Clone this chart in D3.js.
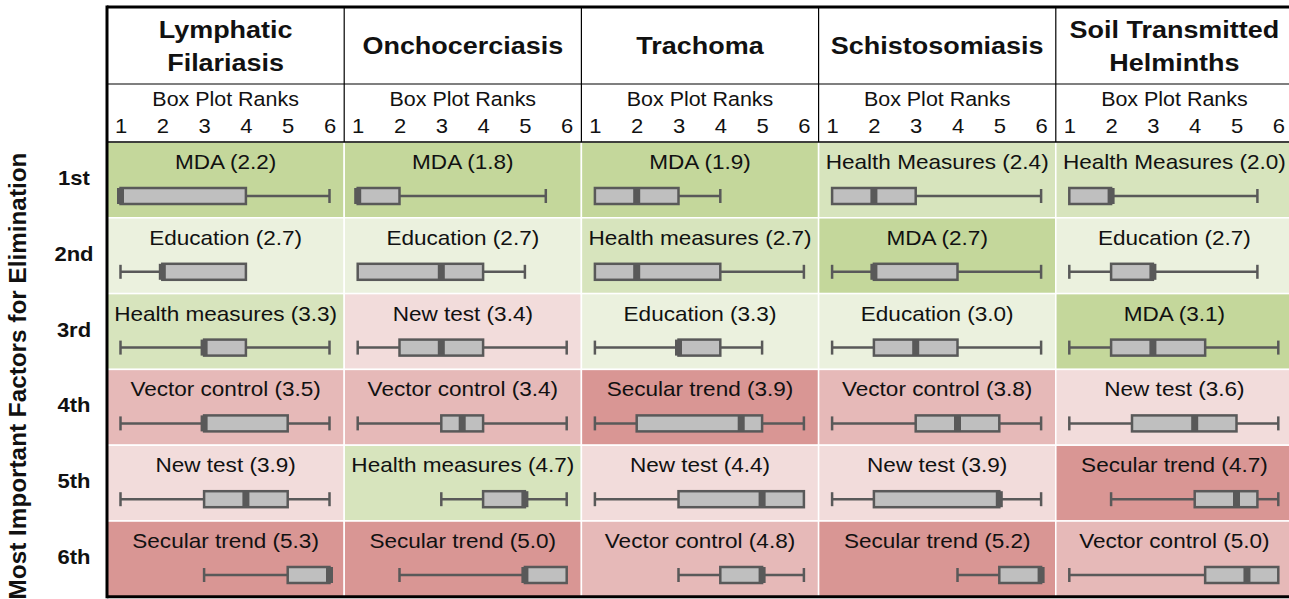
<!DOCTYPE html>
<html>
<head>
<meta charset="utf-8">
<script src="https://cdn.jsdelivr.net/npm/d3@7"></script>
<style>
  body { margin: 0; background: #fff; overflow: hidden; }
  text { font-family: "Liberation Sans", Arial, sans-serif; fill: #111; }
</style>
</head>
<body>
<div id="chart"></div>
<script>
// column titles (one entry per line)
const diseases = [
	["Lymphatic", "Filariasis"],
	["Onchocerciasis"],
	["Trachoma"],
	["Schistosomiasis"],
	["Soil Transmitted", "Helminths"]
]
const rankLabels = ["1st", "2nd", "3rd", "4th", "5th", "6th"]
const rankTicks = [1, 2, 3, 4, 5, 6]

// box stats are [min, q1, median, q3, max]
const lfFactors = ["MDA", "Education", "Health measures", "Vector control", "New test", "Secular trend"]
const lfMeans = [2.2, 2.7, 3.3, 3.5, 3.9, 5.3]
const lfBoxes = [[1, 1, 1, 4, 6], [1, 2, 2, 4, 4], [1, 3, 3, 4, 6], [1, 3, 3, 5, 6], [1, 3, 4, 5, 6], [3, 5, 6, 6, 6]]

const onchoFactors = ["MDA", "Education", "New test", "Vector control", "Health measures", "Secular trend"]
const onchoMeans = [1.8, 2.7, 3.4, 3.4, 4.7, 5.0]
const onchoBoxes = [[1, 1, 1, 2, 5.5], [1, 1, 3, 4, 5], [1, 2, 3, 4, 6], [1, 3, 3.5, 4, 6], [3, 4, 5, 5, 6], [2, 5, 5, 6, 6]]

const trachFactors = ["MDA", "Health measures", "Education", "Secular trend", "New test", "Vector control"]
const trachMeans = [1.9, 2.7, 3.3, 3.9, 4.4, 4.8]
const trachBoxes = [[1, 1, 2, 3, 4], [1, 1, 2, 4, 6], [1, 3, 3, 4, 5], [1, 2, 4.5, 5, 6], [1, 3, 5, 6, 6], [3, 4, 5, 5, 6]]

const schistoFactors = ["Health Measures", "MDA", "Education", "Vector control", "New test", "Secular trend"]
const schistoMeans = [2.4, 2.7, 3.0, 3.8, 3.9, 5.2]
const schistoBoxes = [[1, 1, 2, 3, 6], [1, 2, 2, 4, 6], [1, 2, 3, 4, 6], [1, 3, 4, 5, 6], [1, 2, 5, 5, 6], [4, 5, 6, 6, 6]]

const sthFactors = ["Health Measures", "Education", "MDA", "New test", "Secular trend", "Vector control"]
const sthMeans = [2.0, 2.7, 3.1, 3.6, 4.7, 5.0]
const sthBoxes = [[1, 1, 2, 2, 5.5], [1, 2, 3, 3, 5.5], [1, 2, 3, 4.25, 6], [1, 2.5, 4, 5, 6], [2, 4, 5, 5.5, 6], [1, 4.25, 5.25, 6, 6]]

const factorNames = ["mda", "health measures", "education", "new test", "vector control", "secular trend"]
const factorColors = ["#c4d79b", "#d7e4bd", "#ebf1de", "#f2dcdb", "#e6b9b8", "#d99694"]

const columns = [
	{factors: lfFactors, means: lfMeans, boxes: lfBoxes},
	{factors: onchoFactors, means: onchoMeans, boxes: onchoBoxes},
	{factors: trachFactors, means: trachMeans, boxes: trachBoxes},
	{factors: schistoFactors, means: schistoMeans, boxes: schistoBoxes},
	{factors: sthFactors, means: sthMeans, boxes: sthBoxes}
]

const width = 1289
const height = 599
const gridLeft = 107
const gridTop = 7
const colW = 237.2
const titleBottom = 84
const subBottom = 142
const rowH = 75.8
const SX = 1.1  // the source text is a little wide
const boxGrey = "#bfbfbf"
const dark = "#595959"

const color = d3.scaleOrdinal().domain(factorNames).range(factorColors)

const svg = d3.select("#chart").append("svg")
	.attr("width", width)
	.attr("height", height)

function label(g, x, y, txt, size, bold) {
	return g.append("text")
		.attr("transform", `translate(${x},${y}) scale(${SX},1)`)
		.attr("text-anchor", "middle")
		.style("font-size", size + "px")
		.style("font-weight", bold ? "bold" : "normal")
		.text(txt)
}

// data cells
columns.forEach((col, ci) => {
	const x0 = gridLeft + ci * colW
	const x = d3.scaleLinear().domain([1, 6]).range([x0 + 13.5, x0 + 222.5])
	const g = svg.append("g")

	col.factors.forEach((f, ri) => {
		const y0 = subBottom + ri * rowH
		const b = col.boxes[ri]
		g.append("rect")
			.attr("x", x0).attr("y", y0)
			.attr("width", colW).attr("height", rowH)
			.attr("fill", color(f.toLowerCase()))
			.attr("stroke", "#fff")
			.attr("stroke-width", 1.5)

		label(g, x0 + colW / 2, y0 + 27, `${f} (${col.means[ri].toFixed(1)})`, 20.5, false)

		const cy = y0 + 54
		const bg = g.append("g").attr("stroke", dark).attr("stroke-width", 2.5)
		if (b[0] < b[1]) bg.append("line").attr("x1", x(b[0])).attr("x2", x(b[1])).attr("y1", cy).attr("y2", cy)
		if (b[4] > b[3]) bg.append("line").attr("x1", x(b[3])).attr("x2", x(b[4])).attr("y1", cy).attr("y2", cy)
		if (b[0] < b[1]) bg.append("line").attr("x1", x(b[0])).attr("x2", x(b[0])).attr("y1", cy - 7).attr("y2", cy + 7)
		if (b[4] > b[3]) bg.append("line").attr("x1", x(b[4])).attr("x2", x(b[4])).attr("y1", cy - 7).attr("y2", cy + 7)
		bg.append("rect")
			.attr("x", x(b[1])).attr("y", cy - 8)
			.attr("width", x(b[3]) - x(b[1])).attr("height", 16)
			.attr("fill", boxGrey)
		g.append("rect")
			.attr("x", x(b[2]) - 3.5).attr("y", cy - 8)
			.attr("width", 7).attr("height", 16)
			.attr("fill", dark)
	})

	// header
	const lines = diseases[ci]
	if (lines.length === 1) {
		label(svg, x0 + colW / 2, 54, lines[0], 24.5, true)
	} else {
		label(svg, x0 + colW / 2, 38, lines[0], 24.5, true)
		label(svg, x0 + colW / 2, 71, lines[1], 24.5, true)
	}
	label(svg, x0 + colW / 2, 106, "Box Plot Ranks", 19.5, false)

	svg.append("g")
		.attr("transform", `translate(0,${subBottom - 9})`)
		.call(d3.axisBottom(x).tickValues(rankTicks).tickSize(0).tickPadding(0).tickFormat(d3.format("d")))
		.call(a => a.select(".domain").remove())
		.call(a => a.selectAll("text")
			.attr("y", 0).attr("dy", 0)
			.attr("transform", `scale(${SX},1)`)
			.attr("x", 0)
			.style("font-size", "20px")
			.style("font-family", '"Liberation Sans", Arial, sans-serif')
			.attr("fill", "#111"))
})

// header grid lines
const frame = svg.append("g").attr("stroke", "#000")
for (let i = 1; i < columns.length; i++) {
	frame.append("line")
		.attr("x1", gridLeft + i * colW).attr("x2", gridLeft + i * colW)
		.attr("y1", gridTop).attr("y2", subBottom)
		.attr("stroke-width", 1.2)
}
frame.append("line").attr("x1", gridLeft).attr("x2", width).attr("y1", titleBottom).attr("y2", titleBottom).attr("stroke-width", 1.2)
frame.append("line").attr("x1", gridLeft).attr("x2", width).attr("y1", subBottom).attr("y2", subBottom).attr("stroke-width", 1.5)
frame.append("line").attr("x1", gridLeft).attr("x2", width).attr("y1", gridTop).attr("y2", gridTop).attr("stroke-width", 3)
frame.append("line").attr("x1", gridLeft).attr("x2", width).attr("y1", subBottom + 6 * rowH).attr("y2", subBottom + 6 * rowH).attr("stroke-width", 3)
frame.append("line").attr("x1", gridLeft).attr("x2", gridLeft).attr("y1", gridTop - 1.5).attr("y2", subBottom + 6 * rowH + 1.5).attr("stroke-width", 3)

// row labels
rankLabels.forEach((r, i) => {
	label(svg, 74, subBottom + i * rowH + 43, r, 20, true)
})

svg.append("text")
	.attr("transform", `translate(26,${376}) rotate(-90)`)
	.attr("text-anchor", "middle")
	.style("font-size", "24.3px")
	.style("font-weight", "bold")
	.text("Most Important Factors for Elimination")
</script>
</body>
</html>
